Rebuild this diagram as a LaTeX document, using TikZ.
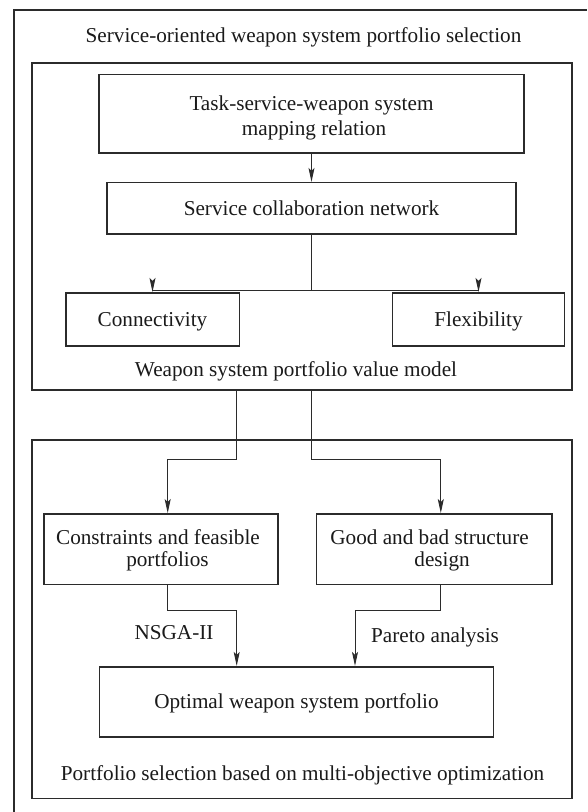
\documentclass[tikz,border=0pt]{standalone}
\usepackage{fontspec}
\setmainfont{Liberation Serif}
\usetikzlibrary{arrows.meta,calc}
\definecolor{ink}{HTML}{1A1A1A}
\definecolor{edge}{HTML}{2B2B2B}
\tikzset{
  txt/.style={font=\fontsize{21.2pt}{25pt}\selectfont, text=ink, inner sep=0pt},
  box/.style={txt, draw=edge, line width=1.6pt, align=center},
  oneline/.style={text height=16pt, text depth=2pt},
  panel/.style={draw=edge, line width=1.6pt, inner sep=0pt},
  tip/.tip={Stealth[length=14pt, width=6pt, inset=3pt]},
  arr/.style={draw=edge, line width=0.9pt, -tip},
}
\begin{document}
\begin{tikzpicture}[x=1pt,y=-1pt]
\useasboundingbox (0,0) rectangle (587,812);
\fill[white] (0,0) rectangle (587,812);

% outer frame (open to the right and bottom)
\draw[panel, line cap=butt] (14,812) -- (14,10) -- (587,10);
\node[txt, anchor=base] (maintitle) at (303.5,42) {Service-oriented weapon system portfolio selection};

% value model panel
\node[panel, minimum width=540pt, minimum height=327pt] (valuebox) at (302,226.5) {};
\node[box, minimum width=425.5pt, minimum height=78.7pt] (task) at (311.5,113.7) {};
\node[txt, align=center, anchor=base] (tasktext) at (311.5,135)
  {Task-service-weapon system\\\hspace*{5pt}mapping relation};
\node[box, oneline, minimum width=409.5pt, minimum height=51.3pt] (svc) at (311.5,208.3)
  {Service collaboration network};
\node[box, oneline, minimum width=173.6pt, minimum height=53pt] (conn) at (152.5,319.2) {Connectivity};
\node[box, oneline, minimum width=172pt, minimum height=53pt] (flex) at (478.5,319.2) {Flexibility};
\node[txt, anchor=base] (valuetitle) at (296,376) {Weapon system portfolio value model};

% optimization panel
\node[panel, minimum width=540pt, minimum height=358.5pt] (optbox) at (302,619.25) {};
\node[box, minimum width=233.7pt, minimum height=70.7pt] (cons) at (161,549.2) {};
\node[txt, align=center, anchor=base, font=\fontsize{21.2pt}{22.4pt}\selectfont] (constext) at (158,566.7)
  {Constraints and feasible\\\hspace*{19pt}portfolios};
\node[box, minimum width=235.2pt, minimum height=70.7pt] (good) at (434.1,549.2) {};
\node[txt, align=center, anchor=base, font=\fontsize{21.2pt}{22.4pt}\selectfont] (goodtext) at (429.6,566.7)
  {Good and bad structure\\\hspace*{25pt}design};
\node[box, oneline, minimum width=394.3pt, minimum height=70pt] (opt) at (296.5,701.7)
  {Optimal weapon system portfolio};
\node[txt, anchor=base] (nsga) at (174,639) {NSGA-II};
\node[txt, anchor=base] (pareto) at (435,642) {Pareto analysis};
\node[txt, anchor=base] (opttitle) at (302.5,780) {Portfolio selection based on multi-objective optimization};

% connectors inside the value model
\draw[arr] (task) -- (svc);
\coordinate (split) at ($(svc.south)+(0,56)$);
\draw[arr] (svc.south) -- (split) -| (conn.north);
\draw[arr] (split) -| (flex.north);

% from the value model to the design steps
\coordinate (outA) at (236.7,390);
\coordinate (outB) at (svc.south |- valuebox.south);
\draw[arr] (outA) -- ++(0,69) -| ([xshift=6.7pt]cons.north);
\draw[arr] (outB) -- ++(0,69) -| ([xshift=6.7pt]good.north);

% to the optimal portfolio
\draw[arr] ([xshift=6.7pt]cons.south) -- ++(0,25.5) -| ([xshift=-59.8pt]opt.north);
\draw[arr] ([xshift=6.7pt]good.south) -- ++(0,25.5) -| ([xshift=58.5pt]opt.north);
\end{tikzpicture}
\end{document}
